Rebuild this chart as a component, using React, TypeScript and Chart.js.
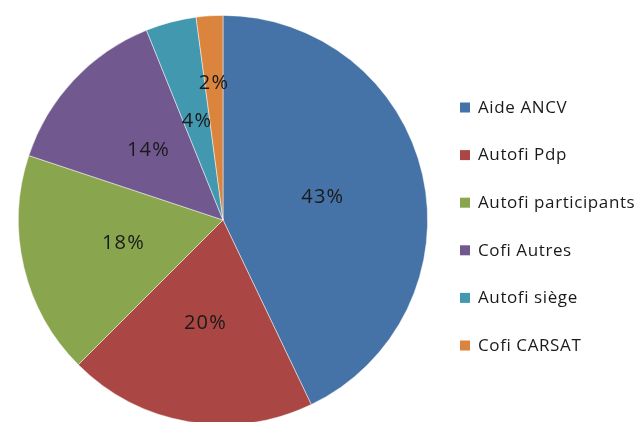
import React, { useEffect, useRef } from "react";
import { Chart, registerables } from "chart.js";

Chart.register(...registerables);

const categories = [
  "Aide ANCV",
  "Autofi Pdp",
  "Autofi participants",
  "Cofi Autres",
  "Autofi siège",
  "Cofi CARSAT",
];
const values = [42.9, 19.6, 17.6, 13.8, 4.0, 2.1];
const colors = ["#4572A7", "#AA4643", "#89A54E", "#71588F", "#4198AF", "#DB843D"];
// radial position of each percentage label as a fraction of the radius
const labelRadii = [0.5, 0.51, 0.5, 0.5, 0.5, 0.67];

const FONT = "'Open Sans', 'DejaVu Sans', sans-serif";

const pctLabels = {
  id: "pctLabels",
  afterDatasetsDraw(chart: any) {
    const ctx = chart.ctx;
    const meta = chart.getDatasetMeta(0);
    const data = chart.data.datasets[0].data as number[];
    const total = data.reduce((a, b) => a + b, 0);
    ctx.save();
    ctx.font = `20px ${FONT}`;
    (ctx as any).letterSpacing = "1.2px";
    ctx.fillStyle = "#1a1a1a";
    ctx.textAlign = "center";
    ctx.textBaseline = "middle";
    meta.data.forEach((arc: any, i: number) => {
      const { x, y, startAngle, endAngle, outerRadius } = arc.getProps(
        ["x", "y", "startAngle", "endAngle", "outerRadius"],
        true
      );
      const mid = (startAngle + endAngle) / 2;
      const r = outerRadius * labelRadii[i];
      const pct = Math.round((data[i] / total) * 100);
      ctx.fillText(`${pct}%`, x + Math.cos(mid) * r, y + Math.sin(mid) * r);
    });
    ctx.restore();
  },
};

const sideLegend = {
  id: "sideLegend",
  afterDraw(chart: any) {
    const ctx = chart.ctx;
    const labels = chart.data.labels as string[];
    const bg = chart.data.datasets[0].backgroundColor as string[];
    const x0 = 460;
    const y0 = 107;
    const step = 47.6;
    ctx.save();
    ctx.font = `17px ${FONT}`;
    (ctx as any).letterSpacing = "0.6px";
    ctx.textBaseline = "middle";
    ctx.textAlign = "left";
    labels.forEach((lab, i) => {
      const cy = y0 + i * step;
      ctx.fillStyle = bg[i];
      ctx.fillRect(x0, cy - 4.5, 10, 10);
      ctx.fillStyle = "#1a1a1a";
      ctx.fillText(lab, x0 + 18, cy + 1);
    });
    ctx.restore();
  },
};

export default function App() {
  const ref = useRef<HTMLCanvasElement>(null);
  useEffect(() => {
    document.body.style.margin = "0";
    const chart = new Chart(ref.current!, {
      type: "pie",
      data: {
        labels: categories,
        datasets: [
          {
            data: values,
            backgroundColor: colors,
            borderColor: "rgba(255,255,255,0.6)",
            borderWidth: 0.8,
          },
        ],
      },
      options: {
        animation: false,
        responsive: false,
        maintainAspectRatio: false,
        layout: { padding: { left: 18, right: 212, top: 15, bottom: 15 } },
        plugins: {
          legend: { display: false },
          tooltip: { enabled: false },
        },
      },
      plugins: [pctLabels, sideLegend],
    });
    return () => chart.destroy();
  }, []);
  return (
    <div style={{ position: "absolute", left: 0, top: 0, width: 640, height: 440, background: "#fff" }}>
      <canvas ref={ref} width={640} height={440} style={{ width: 640, height: 440 }} />
    </div>
  );
}
